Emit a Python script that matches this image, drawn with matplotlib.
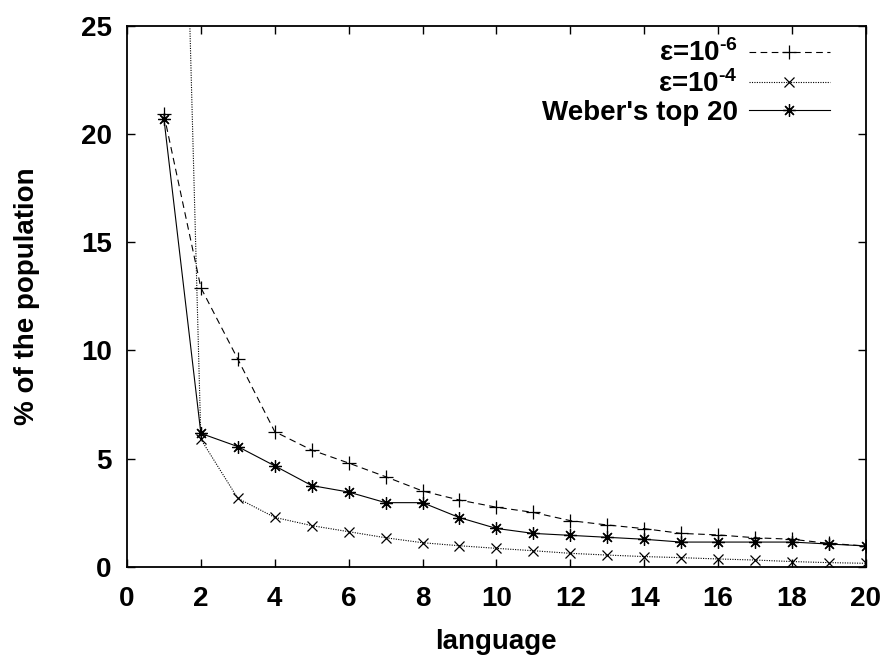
import matplotlib
matplotlib.use("Agg")
import matplotlib.pyplot as plt

plt.rcParams['font.family'] = ['Liberation Sans', 'DejaVu Sans']
plt.rcParams['font.weight'] = 'bold'
plt.rcParams['mathtext.fontset'] = 'custom'
plt.rcParams['mathtext.rm'] = 'Liberation Sans:bold'
plt.rcParams['mathtext.bf'] = 'Liberation Sans:bold'
plt.rcParams['mathtext.it'] = 'Liberation Sans:bold'
plt.rcParams['mathtext.default'] = 'bf'

language = list(range(1, 21))

eps_1e6 = [20.9, 12.9, 9.6, 6.25, 5.4, 4.8, 4.17, 3.51, 3.09, 2.76,
           2.52, 2.14, 1.94, 1.77, 1.55, 1.48, 1.35, 1.28, 1.09, 0.97]

eps_1e4 = [70.0, 5.9, 3.17, 2.29, 1.91, 1.63, 1.35, 1.12, 0.98, 0.86,
           0.75, 0.63, 0.55, 0.48, 0.43, 0.37, 0.32, 0.25, 0.20, 0.17]

weber = [20.7, 6.17, 5.56, 4.67, 3.76, 3.46, 2.97, 2.97, 2.28, 1.78,
         1.55, 1.46, 1.37, 1.28, 1.15, 1.15, 1.15, 1.15, 1.06, 0.97]

labels = ['ε=10$^{\u2010 6}$', 'ε=10$^{\u2010 4}$', "Weber's top 20"]
xticks = [0, 2, 4, 6, 8, 10, 12, 14, 16, 18, 20]
yticks = [0, 5, 10, 15, 20, 25]

fig = plt.figure(figsize=(8.88, 6.55), dpi=100)
ax = fig.add_axes([0.143, 0.1344, 0.832, 0.8264])

lw = 0.8
ax.plot(language, eps_1e6, color='black', lw=lw, linestyle=(0, (6, 4)),
        marker='+', markersize=10, markeredgewidth=0.9, label=labels[0])
ax.plot(language, eps_1e4, color='black', lw=lw, linestyle=(0, (1, 1.2)),
        marker='x', markersize=7, markeredgewidth=0.9, label=labels[1])
ax.plot(language, weber, color='black', lw=lw, linestyle='-',
        marker=(8, 2, 0), markersize=9, markeredgewidth=0.9, label=labels[2])

ax.set_xlim(0, 20)
ax.set_ylim(0, 25)
ax.set_xticks(xticks)
ax.set_yticks(yticks)
ax.tick_params(direction='in', length=6, width=1, top=True, right=True,
               labelsize=20)
ax.tick_params(axis='x', pad=14)
ax.tick_params(axis='y', pad=11)
for sp in ax.spines.values():
    sp.set_linewidth(1.3)

ax.set_xlabel('language', fontsize=20, fontweight='bold', labelpad=12)
ax.set_ylabel('% of the population', fontsize=20, fontweight='bold', labelpad=29)

leg = ax.legend(loc='upper right', bbox_to_anchor=(0.9625, 0.9895),
                markerfirst=False, frameon=False,
                fontsize=20, handlelength=2.9, handletextpad=0.4,
                labelspacing=0.08, borderaxespad=0.0, borderpad=0.3)

fig.savefig('out.png', dpi=100)
